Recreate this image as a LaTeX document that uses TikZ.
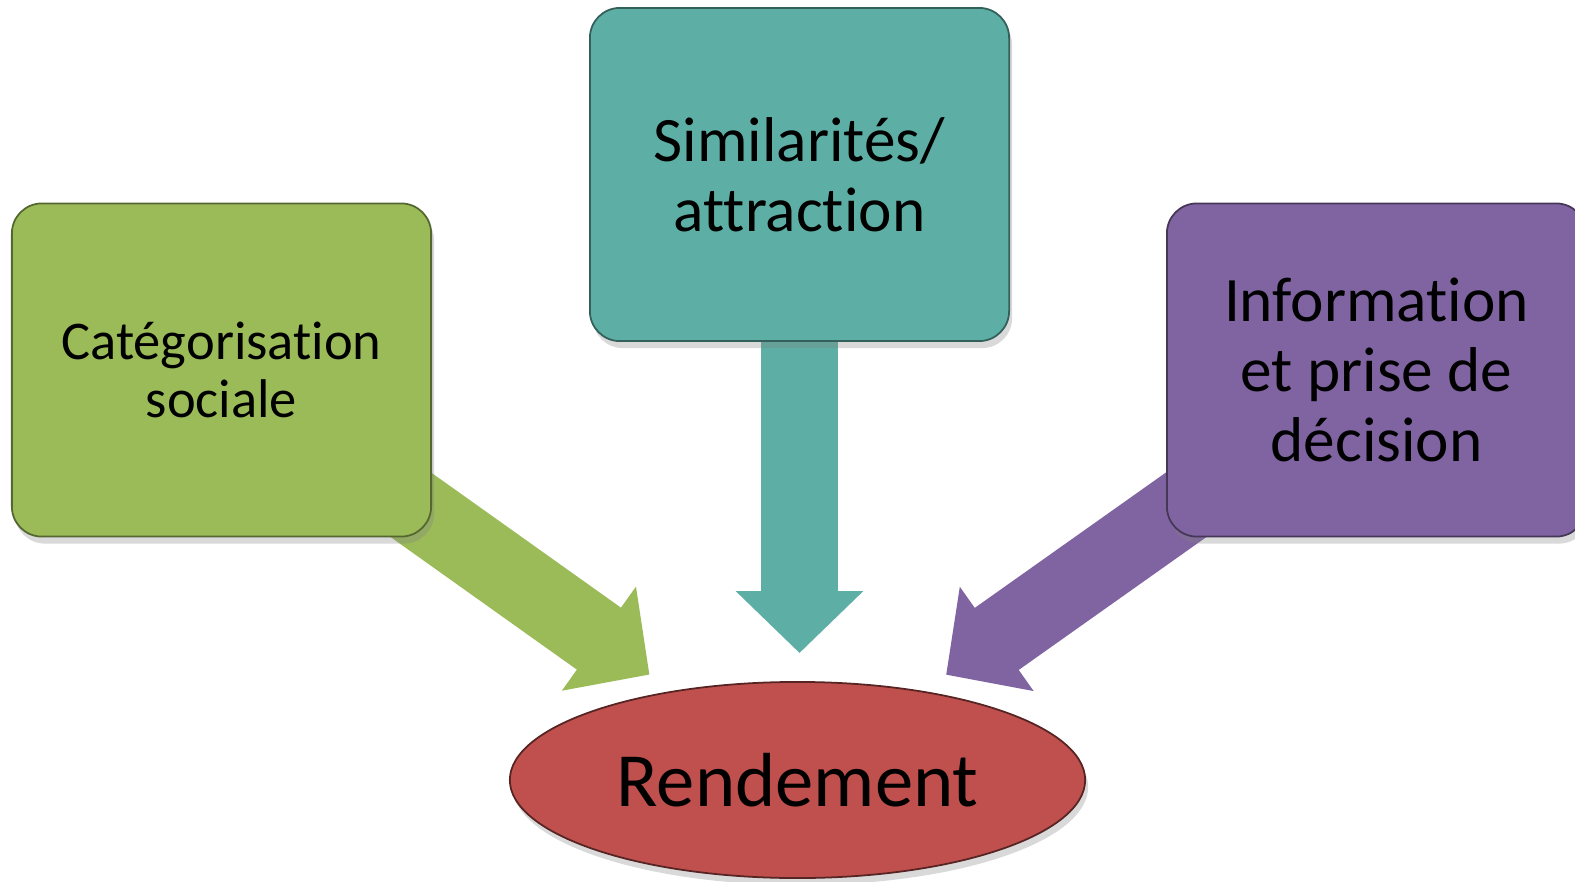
\documentclass[tikz,border=0pt]{standalone}
\usepackage{fontspec}
\setmainfont{Carlito}[Ligatures=NoCommon]
\usetikzlibrary{shapes.geometric,arrows.meta,shadows,backgrounds}
\definecolor{catgreen}{HTML}{9BBB59}
\definecolor{simteal}{HTML}{5DAFA5}
\definecolor{infpurple}{HTML}{8064A2}
\definecolor{rendred}{HTML}{C0504D}

\begin{document}
\begin{tikzpicture}[
  x=0.01cm, y=-0.01cm,
  box/.style={rectangle, draw, rounded corners=0.3cm, line width=0.5pt,
    minimum width=4.19cm, minimum height=3.33cm, align=center,
    drop shadow={shadow xshift=0.3mm, shadow yshift=-0.7mm, opacity=0.3}},
  bigfont/.style={font=\fontsize{18}{20}\selectfont},
  bigarr/.style={line width=0.76cm,
    -{Triangle[length=0.62cm, width=1.24cm]}, shorten >=0.28cm}
]
  \useasboundingbox (0,0) rectangle (1575,882);
  \node[box, fill=catgreen, draw=catgreen!55!black,
    font=\fontsize{15.5}{16.5}\selectfont] (cat) at (221.5,370)
    {Catégorisation\\sociale};
  \node[box, fill=simteal, draw=simteal!55!black, bigfont] (sim)
    at (799.5,174.5) {Similarités/\\attraction};
  \node[box, fill=infpurple, draw=infpurple!55!black, bigfont] (inf)
    at (1376.5,370) {Information\\et prise de\\décision};
  \node[ellipse, fill=rendred, draw=rendred!45!black, line width=0.5pt,
    minimum width=5.75cm, minimum height=1.96cm, inner sep=0pt,
    font=\fontsize{21.8}{24}\selectfont,
    drop shadow={shadow xshift=0.3mm, shadow yshift=-0.7mm, opacity=0.3}]
    (rend) at (797.5,780) {Rendement};

  \begin{scope}[on background layer]
    \draw[bigarr, catgreen] (cat.center) -- (rend);
    \draw[bigarr, simteal] (sim.center) -- (sim.center |- rend.north);
    \draw[bigarr, infpurple] (inf.center) -- (rend);
  \end{scope}
\end{tikzpicture}
\end{document}
